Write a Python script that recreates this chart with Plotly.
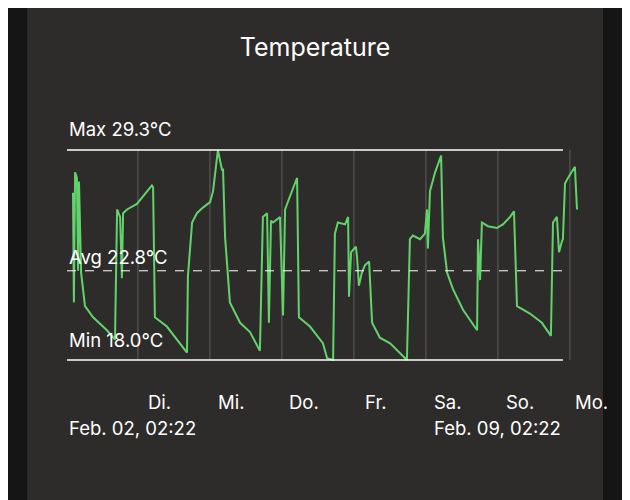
import plotly.graph_objects as go

hours = [0, 0.3, 0.7, 1.3, 1.7, 2.0, 2.7, 4.0, 6.7, 11.3, 14.0, 14.7, 15.7, 16.3, 16.7, 18.0, 21.3, 24.7, 26.3, 26.7,
         27.3, 31.3, 38.0, 38.3, 39.7, 41.3, 43.3, 45.7, 46.7, 48.3, 49.7, 50.0, 50.7, 52.3, 55.7, 59.0, 62.3,
         63.3, 64.0, 64.7, 65.3, 66.0, 66.7, 69.0, 70.0, 70.7, 72.3, 74.7, 75.3, 79.0, 83.3, 84.7, 86.7,
         87.3, 88.3, 90.7, 91.7, 92.0, 92.7, 93.3, 94.3, 94.7, 95.3, 96.3, 97.3, 98.7, 99.7, 102.3, 105.7, 111.3,
         112.3, 113.3, 115.7, 117.3, 118.0, 118.3, 119.0, 120.7, 122.7, 123.3, 124.7, 126.7, 130.0, 134.7,
         135.0, 135.7, 136.3, 138.3, 141.3, 143.3, 145.7, 147.0, 148.0, 152.3, 156.3, 159.3,
         160.0, 161.3, 162.0, 163.0, 163.3, 164.0, 165.0, 167.3, 168.0]
temps = [27.0, 21.1, 28.1, 27.8, 22.8, 27.6, 22.7, 20.9, 20.3, 19.6, 19.1, 26.1, 25.7, 22.4, 25.9, 26.1, 26.4, 27.1, 27.4, 27.3,
         20.3, 19.8, 18.4, 22.5, 25.4, 25.9, 26.2, 26.5, 27.1, 29.3, 28.2, 28.3, 24.6, 21.1, 20.0, 19.5, 18.5,
         25.7, 25.8, 25.9, 20.0, 25.5, 25.4, 25.7, 20.4, 26.1, 26.8, 27.8, 20.3, 19.8, 18.9, 18.1, 18.0,
         24.8, 25.4, 25.3, 25.7, 21.4, 23.8, 23.9, 24.1, 23.5, 22.0, 22.7, 23.1, 23.3, 20.0, 19.2, 18.9, 18.0,
         24.5, 24.7, 24.5, 24.8, 26.1, 24.0, 27.1, 28.1, 29.0, 24.6, 22.7, 21.8, 20.7, 19.6,
         24.5, 22.3, 25.4, 25.2, 25.1, 25.3, 25.7, 26.0, 20.9, 20.5, 20.0, 19.3,
         25.4, 25.7, 23.8, 24.4, 24.5, 27.5, 27.8, 28.4, 26.1]
day_labels = ["Di.", "Mi.", "Do.", "Fr.", "Sa.", "So.", "Mo."]
t_max, t_avg, t_min = 29.3, 22.8, 18.0
start_label, end_label = "Feb. 02, 02:22", "Feb. 09, 02:22"
first_midnight = 21.63  # hours from start to Tuesday 00:00

FONT = "Inter, Liberation Sans, sans-serif"
fig = go.Figure()
fig.add_trace(go.Scatter(x=hours, y=temps, mode="lines",
                         line=dict(color="#62d36b", width=2), hoverinfo="skip"))

shapes = []
for k in range(7):
    h = first_midnight + 24 * k
    shapes.append(dict(type="line", xref="x", yref="y", x0=h, x1=h, y0=t_min, y1=t_max,
                       line=dict(color="#5a5855", width=1.2), layer="below"))
line_end = 163.3
for v, dash in [(t_max, "solid"), (t_min, "solid"), (t_avg, "dash")]:
    shapes.append(dict(type="line", xref="x", yref="y", x0=-2, x1=line_end, y0=v, y1=v,
                       line=dict(color="white", width=1.6 if dash == "solid" else 1, dash=dash)))
shapes.append(dict(type="rect", xref="paper", yref="paper", x0=-0.2, x1=-0.074, y0=-1, y1=2,
                   fillcolor="#151515", line=dict(width=0), layer="below"))
shapes.append(dict(type="rect", xref="paper", yref="paper", x0=0.9926, x1=1.2, y0=-1, y1=2,
                   fillcolor="#151515", line=dict(width=0), layer="below"))

ann = []
for lbl, v, dy in [(f"Max {t_max}°C", t_max, 21), (f"Avg {t_avg}°C", t_avg, 14), (f"Min {t_min}°C", t_min, 20)]:
    ann.append(dict(x=-2, y=v, xref="x", yref="y", text=lbl, showarrow=False, xanchor="left",
                    yanchor="middle", yshift=dy, font=dict(size=18.5, color="white", family=FONT)))
for k, lbl in enumerate(day_labels):
    ann.append(dict(x=first_midnight + 24 * k + 7.3, y=-0.139, xref="x", yref="paper", text=lbl,
                    showarrow=False, xanchor="center", yanchor="middle",
                    font=dict(size=18.5, color="white", family=FONT)))
ann.append(dict(x=-2, y=-0.252, xref="x", yref="paper", text=start_label, showarrow=False,
                xanchor="left", yanchor="middle", font=dict(size=18.5, color="white", family=FONT)))
ann.append(dict(x=line_end, y=-0.252, xref="x", yref="paper", text=end_label, showarrow=False,
                xanchor="right", yanchor="middle", font=dict(size=18.5, color="white", family=FONT)))

fig.update_layout(
    width=630, height=500,
    margin=dict(l=59, r=31, t=132, b=138),
    paper_bgcolor="#2e2c2a", plot_bgcolor="#2e2c2a",
    showlegend=False,
    title=dict(text="Temperature", x=307 / 630, xref="container", xanchor="center", y=1 - 39 / 500,
               yanchor="middle", font=dict(size=25, color="white", family=FONT)),
    xaxis=dict(range=[-2, 178], visible=False, fixedrange=True),
    yaxis=dict(range=[17.46, 29.84], visible=False, fixedrange=True),
    shapes=shapes, annotations=ann,
)
fig.write_html("out.html")
